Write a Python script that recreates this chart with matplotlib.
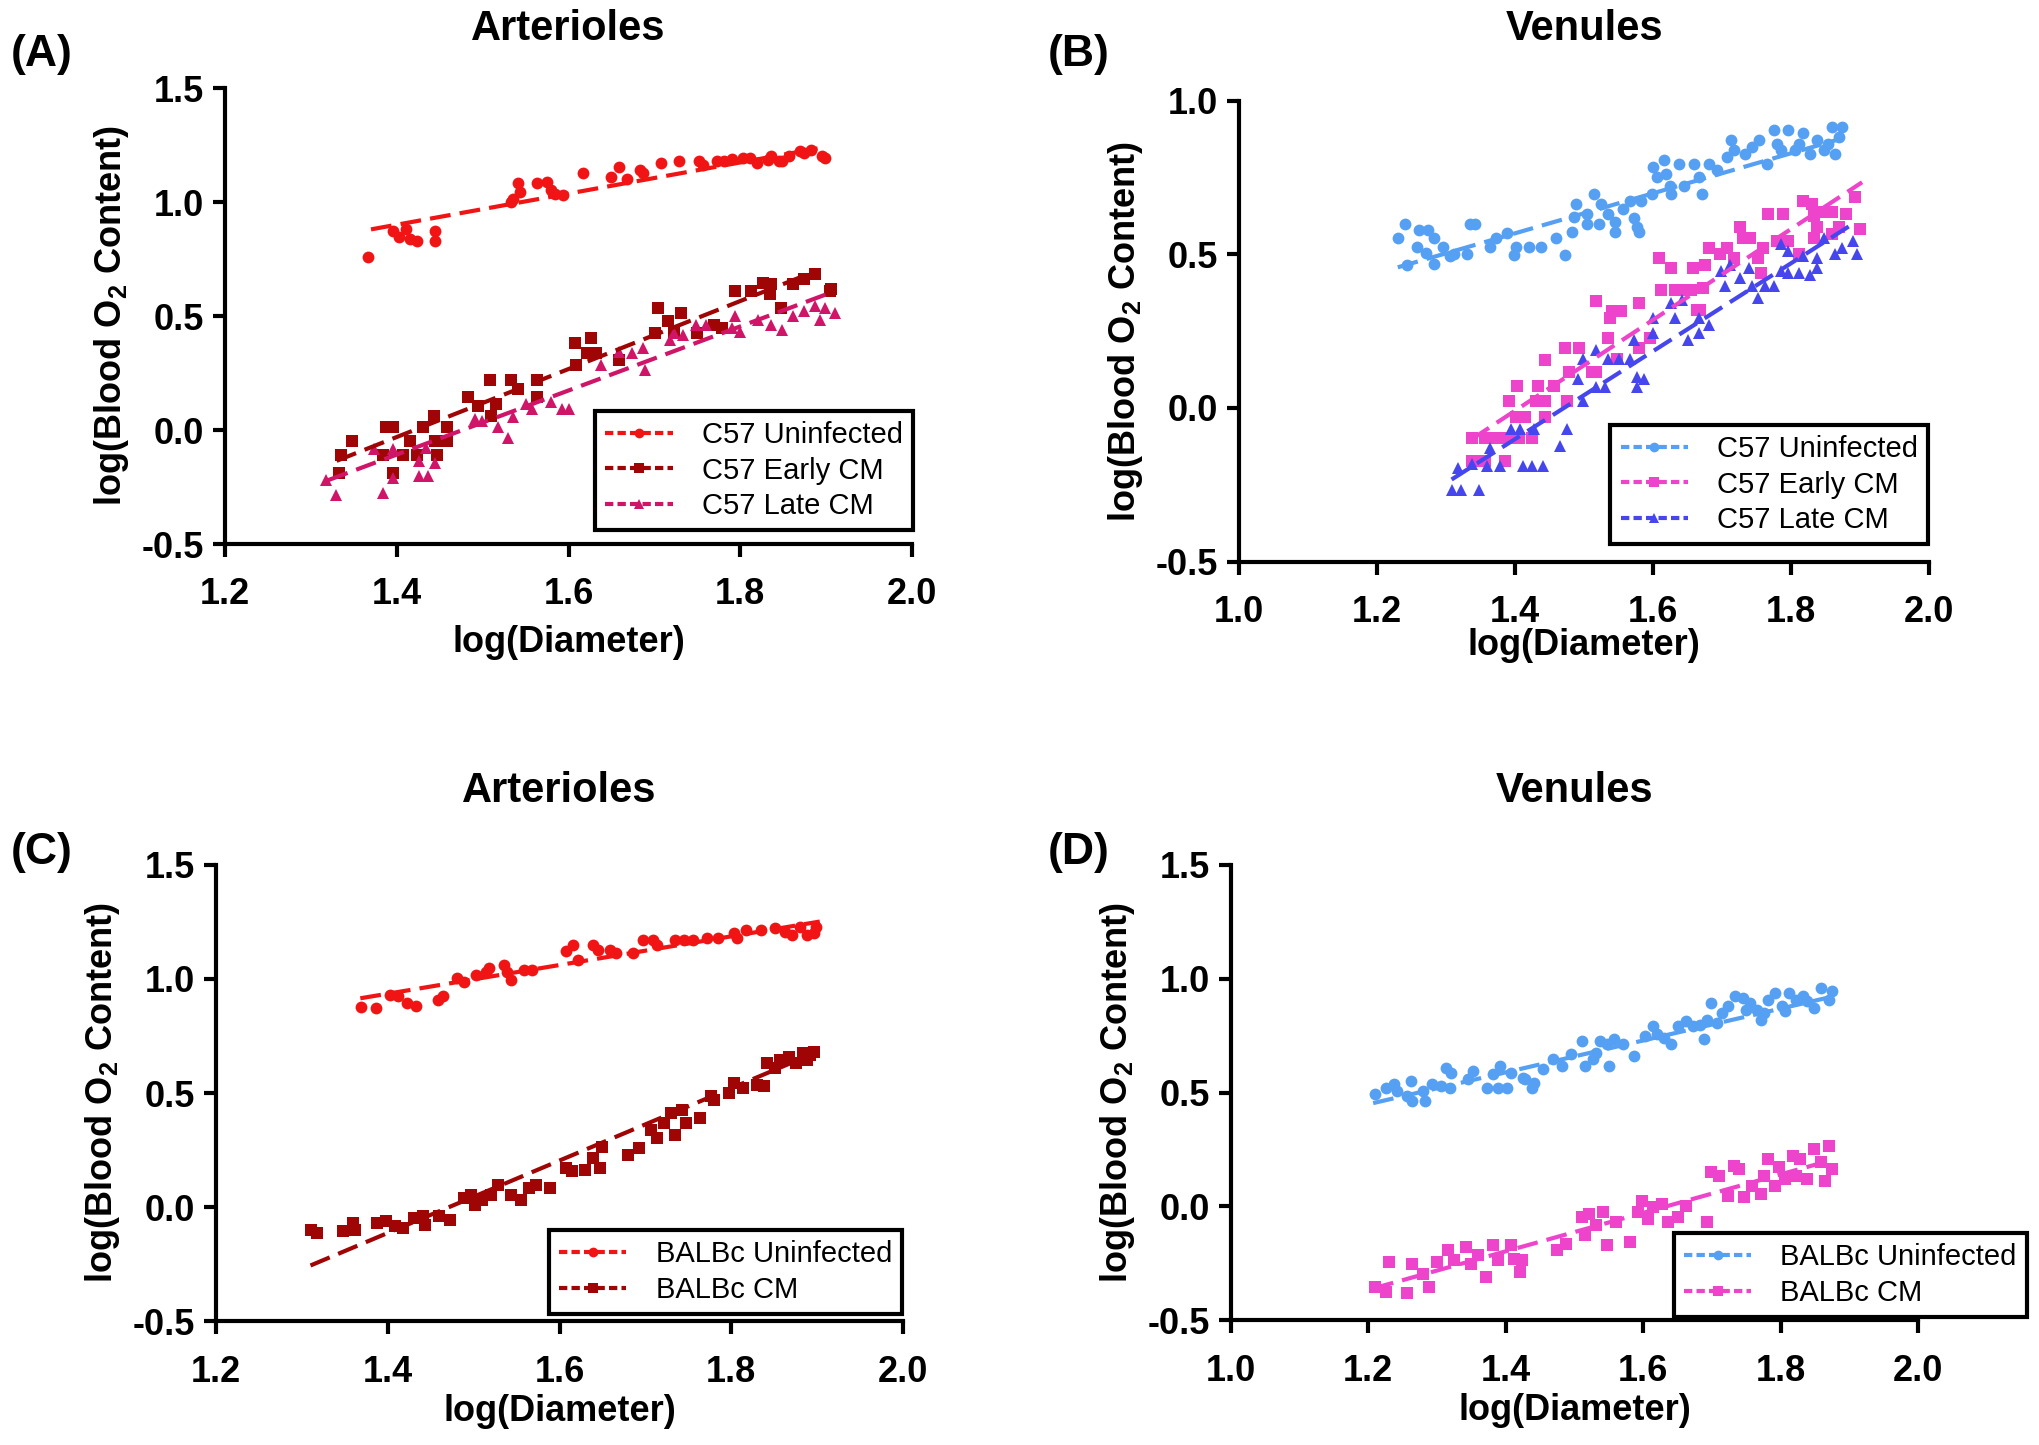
import matplotlib
matplotlib.use("Agg")
import matplotlib.pyplot as plt
from matplotlib.lines import Line2D

plt.rcParams["font.family"] = ["Liberation Sans", "DejaVu Sans"]
plt.rcParams["axes.unicode_minus"] = False
plt.rcParams["mathtext.fontset"] = "custom"
plt.rcParams["mathtext.rm"] = "Liberation Sans:bold"
plt.rcParams["mathtext.it"] = "Liberation Sans:bold"
plt.rcParams["mathtext.bf"] = "Liberation Sans:bold"

# ---------------- data ----------------
# (A) C57 arterioles
a_uninf_x = [1.367, 1.396, 1.403, 1.411, 1.415, 1.423, 1.445, 1.445, 1.541, 1.544, 1.535, 1.533, 1.563, 1.575, 1.579,
             1.584, 1.594, 1.617, 1.649, 1.659, 1.668, 1.683, 1.687, 1.708, 1.729, 1.752, 1.756, 1.773, 1.781, 1.790,
             1.803, 1.811, 1.819, 1.832, 1.836, 1.845, 1.849, 1.857, 1.870, 1.874, 1.882, 1.895, 1.899]
a_uninf_y = [0.760, 0.875, 0.848, 0.882, 0.838, 0.831, 0.875, 0.831, 1.082, 1.045, 1.015, 1.000, 1.082, 1.089, 1.052,
             1.037, 1.030, 1.129, 1.111, 1.152, 1.099, 1.141, 1.126, 1.170, 1.178, 1.178, 1.163, 1.178, 1.182, 1.188,
             1.192, 1.192, 1.170, 1.185, 1.200, 1.178, 1.182, 1.200, 1.222, 1.214, 1.229, 1.200, 1.192]
a_early_x = [1.333, 1.335, 1.348, 1.388, 1.396, 1.384, 1.396, 1.407, 1.415, 1.430, 1.443, 1.445, 1.447, 1.459, 1.459,
             1.424, 1.483, 1.495, 1.508, 1.510, 1.516, 1.533, 1.541, 1.563, 1.563, 1.607, 1.609, 1.626, 1.621, 1.632,
             1.659, 1.704, 1.701, 1.716, 1.731, 1.723, 1.750, 1.769, 1.779, 1.794, 1.813, 1.826, 1.834, 1.836, 1.847,
             1.861, 1.874, 1.887, 1.906, 1.904]
a_early_y = [-0.188, -0.111, -0.047, 0.012, 0.012, -0.111, -0.188, -0.111, -0.047, 0.012, 0.063, -0.047, -0.111, 0.012,
             -0.047, -0.111, 0.144, 0.107, 0.218, 0.063, 0.115, 0.218, 0.181, 0.218, 0.144, 0.380, 0.285, 0.403, 0.336,
             0.336, 0.307, 0.535, 0.425, 0.476, 0.513, 0.432, 0.425, 0.462, 0.447, 0.609, 0.609, 0.646, 0.595, 0.639,
             0.535, 0.639, 0.661, 0.683, 0.617, 0.609]
a_late_x = [1.329, 1.318, 1.384, 1.373, 1.396, 1.396, 1.426, 1.426, 1.436, 1.434, 1.445, 1.491, 1.499, 1.518, 1.529,
            1.535, 1.550, 1.558, 1.579, 1.592, 1.600, 1.638, 1.659, 1.674, 1.687, 1.689, 1.718, 1.723, 1.733, 1.748,
            1.760, 1.790, 1.800, 1.794, 1.821, 1.836, 1.849, 1.861, 1.874, 1.887, 1.893, 1.910, 1.899]
a_late_y = [-0.284, -0.217, -0.276, -0.085, -0.085, -0.210, -0.136, -0.202, -0.202, -0.077, -0.144, 0.048, 0.041, 0.012,
            -0.033, 0.056, 0.115, 0.093, 0.122, 0.093, 0.093, 0.285, 0.344, 0.336, 0.358, 0.262, 0.395, 0.425, 0.417,
            0.462, 0.462, 0.447, 0.432, 0.498, 0.484, 0.462, 0.440, 0.498, 0.521, 0.543, 0.484, 0.513, 0.535]

# (B) C57 venules
b_uninf_x = [1.230, 1.241, 1.243, 1.261, 1.258, 1.274, 1.271, 1.282, 1.282, 1.295, 1.305, 1.311, 1.331, 1.334, 1.342,
             1.363, 1.373, 1.389, 1.399, 1.402, 1.420, 1.438, 1.459, 1.472, 1.483, 1.485, 1.488, 1.504, 1.504, 1.514,
             1.522, 1.525, 1.535, 1.545, 1.545, 1.556, 1.566, 1.572, 1.577, 1.579, 1.582, 1.598, 1.600, 1.606, 1.616,
             1.619, 1.624, 1.626, 1.637, 1.645, 1.660, 1.666, 1.671, 1.681, 1.692, 1.707, 1.713, 1.718, 1.733, 1.744,
             1.754, 1.765, 1.775, 1.780, 1.796, 1.806, 1.817, 1.827, 1.838, 1.848, 1.859, 1.864, 1.869, 1.874, 1.853,
             1.812, 1.786]
b_uninf_y = [0.553, 0.599, 0.467, 0.579, 0.524, 0.579, 0.506, 0.469, 0.553, 0.524, 0.495, 0.500, 0.500, 0.599, 0.599,
             0.524, 0.555, 0.571, 0.498, 0.524, 0.524, 0.524, 0.555, 0.498, 0.574, 0.623, 0.664, 0.599, 0.631, 0.697,
             0.599, 0.664, 0.631, 0.604, 0.574, 0.648, 0.675, 0.620, 0.588, 0.574, 0.675, 0.697, 0.784, 0.752, 0.806,
             0.763, 0.724, 0.697, 0.795, 0.724, 0.795, 0.752, 0.697, 0.795, 0.774, 0.817, 0.872, 0.839, 0.828, 0.850,
             0.872, 0.795, 0.905, 0.861, 0.905, 0.839, 0.894, 0.828, 0.872, 0.839, 0.916, 0.828, 0.883, 0.916, 0.861,
             0.861, 0.839]
b_early_x = [1.337, 1.347, 1.357, 1.386, 1.337, 1.357, 1.373, 1.389, 1.405, 1.425, 1.402, 1.415, 1.444, 1.391, 1.431,
             1.444, 1.475, 1.403, 1.433, 1.457, 1.444, 1.478, 1.511, 1.517, 1.472, 1.493, 1.548, 1.535, 1.579, 1.595,
             1.517, 1.540, 1.553, 1.538, 1.579, 1.608, 1.611, 1.626, 1.632, 1.645, 1.655, 1.658, 1.676, 1.663, 1.668,
             1.673, 1.681, 1.697, 1.707, 1.718, 1.726, 1.731, 1.741, 1.752, 1.757, 1.767, 1.788, 1.780, 1.796, 1.812,
             1.817, 1.830, 1.833, 1.838, 1.848, 1.859, 1.869, 1.880, 1.893, 1.900, 1.759, 1.833, 1.859]
b_early_y = [-0.173, -0.173, -0.173, -0.173, -0.099, -0.099, -0.099, -0.099, -0.099, -0.099, -0.031, -0.031, -0.031,
             0.024, 0.024, 0.024, 0.024, 0.073, 0.073, 0.073, 0.155, 0.117, 0.117, 0.117, 0.194, 0.194, 0.161, 0.227,
             0.194, 0.227, 0.347, 0.316, 0.316, 0.292, 0.341, 0.489, 0.385, 0.456, 0.385, 0.385, 0.385, 0.456, 0.467,
             0.320, 0.320, 0.391, 0.522, 0.500, 0.522, 0.489, 0.588, 0.555, 0.555, 0.489, 0.440, 0.631, 0.631, 0.544,
             0.544, 0.500, 0.675, 0.664, 0.626, 0.588, 0.637, 0.637, 0.588, 0.631, 0.686, 0.582, 0.522, 0.555, 0.566]
b_late_x = [1.308, 1.321, 1.347, 1.318, 1.337, 1.360, 1.378, 1.412, 1.425, 1.441, 1.363, 1.394, 1.407, 1.428, 1.465,
            1.475, 1.498, 1.491, 1.517, 1.530, 1.577, 1.587, 1.577, 1.498, 1.517, 1.535, 1.551, 1.566, 1.572, 1.600,
            1.600, 1.626, 1.632, 1.642, 1.650, 1.666, 1.681, 1.666, 1.699, 1.705, 1.726, 1.744, 1.752, 1.762, 1.775,
            1.786, 1.796, 1.812, 1.786, 1.796, 1.817, 1.827, 1.838, 1.848, 1.864, 1.874, 1.890, 1.895, 1.838, 1.739,
            1.712]
b_late_y = [-0.266, -0.266, -0.266, -0.195, -0.184, -0.189, -0.189, -0.189, -0.189, -0.189, -0.129, -0.069, -0.069,
            -0.069, -0.123, -0.069, 0.024, 0.095, 0.068, 0.068, 0.068, 0.095, 0.101, 0.161, 0.188, 0.161, 0.161, 0.161,
            0.221, 0.243, 0.292, 0.341, 0.292, 0.352, 0.221, 0.243, 0.270, 0.292, 0.445, 0.396, 0.423, 0.396, 0.358,
            0.396, 0.396, 0.445, 0.440, 0.440, 0.533, 0.511, 0.495, 0.434, 0.456, 0.555, 0.500, 0.522, 0.544, 0.500,
            0.489, 0.456, 0.467]

# (C) BALBc arterioles
c_uninf_x = [1.369, 1.386, 1.402, 1.412, 1.422, 1.433, 1.458, 1.464, 1.481, 1.489, 1.503, 1.514, 1.518, 1.535, 1.539,
             1.543, 1.558, 1.568, 1.607, 1.616, 1.622, 1.639, 1.645, 1.659, 1.666, 1.686, 1.697, 1.709, 1.713, 1.734,
             1.745, 1.755, 1.772, 1.784, 1.803, 1.807, 1.817, 1.834, 1.851, 1.863, 1.871, 1.880, 1.888, 1.896, 1.898]
c_uninf_y = [0.879, 0.872, 0.930, 0.926, 0.894, 0.882, 0.908, 0.923, 1.003, 0.988, 1.018, 1.032, 1.047, 1.061, 1.032,
             0.996, 1.039, 1.039, 1.120, 1.149, 1.083, 1.149, 1.127, 1.127, 1.112, 1.112, 1.171, 1.171, 1.149, 1.171,
             1.171, 1.171, 1.178, 1.178, 1.200, 1.178, 1.215, 1.215, 1.222, 1.207, 1.193, 1.229, 1.193, 1.200, 1.229]
c_cm_x = [1.310, 1.317, 1.348, 1.360, 1.362, 1.387, 1.398, 1.408, 1.418, 1.431, 1.441, 1.443, 1.460, 1.472, 1.489,
          1.497, 1.501, 1.510, 1.520, 1.528, 1.543, 1.555, 1.564, 1.572, 1.589, 1.607, 1.614, 1.630, 1.639, 1.647,
          1.649, 1.680, 1.693, 1.707, 1.713, 1.722, 1.730, 1.734, 1.743, 1.747, 1.763, 1.776, 1.780, 1.797, 1.803,
          1.813, 1.830, 1.838, 1.842, 1.851, 1.857, 1.867, 1.875, 1.884, 1.892, 1.896, 1.888]
c_cm_y = [-0.098, -0.113, -0.106, -0.069, -0.098, -0.069, -0.062, -0.084, -0.091, -0.048, -0.040, -0.077, -0.040,
          -0.055, 0.040, 0.055, 0.011, 0.033, 0.055, 0.098, 0.055, 0.033, 0.084, 0.098, 0.084, 0.171, 0.157, 0.164,
          0.215, 0.171, 0.266, 0.230, 0.259, 0.339, 0.303, 0.368, 0.412, 0.317, 0.427, 0.368, 0.390, 0.485, 0.470,
          0.500, 0.543, 0.522, 0.536, 0.529, 0.631, 0.609, 0.645, 0.660, 0.631, 0.675, 0.667, 0.682, 0.645]

# (D) BALBc venules
d_uninf_x = [1.210, 1.225, 1.238, 1.241, 1.256, 1.262, 1.264, 1.282, 1.280, 1.293, 1.306, 1.313, 1.321, 1.319, 1.345,
             1.352, 1.373, 1.389, 1.402, 1.381, 1.391, 1.407, 1.425, 1.428, 1.438, 1.441, 1.454, 1.469, 1.482, 1.495,
             1.511, 1.516, 1.527, 1.537, 1.547, 1.550, 1.558, 1.571, 1.586, 1.602, 1.615, 1.630, 1.641, 1.651, 1.662,
             1.672, 1.688, 1.693, 1.698, 1.714, 1.724, 1.734, 1.745, 1.755, 1.771, 1.766, 1.781, 1.792, 1.802, 1.812,
             1.823, 1.833, 1.849, 1.859, 1.870, 1.875, 1.838, 1.807, 1.776, 1.750, 1.708, 1.682, 1.620, 1.532]
d_uninf_y = [0.493, 0.522, 0.537, 0.508, 0.486, 0.551, 0.464, 0.464, 0.508, 0.537, 0.530, 0.610, 0.588, 0.522, 0.559,
             0.595, 0.522, 0.522, 0.522, 0.581, 0.617, 0.588, 0.566, 0.559, 0.522, 0.544, 0.602, 0.646, 0.617, 0.668,
             0.726, 0.617, 0.646, 0.726, 0.712, 0.617, 0.734, 0.712, 0.661, 0.748, 0.792, 0.741, 0.712, 0.792, 0.814,
             0.792, 0.734, 0.821, 0.894, 0.850, 0.880, 0.923, 0.916, 0.894, 0.821, 0.865, 0.909, 0.938, 0.880, 0.938,
             0.909, 0.923, 0.872, 0.960, 0.909, 0.945, 0.902, 0.858, 0.850, 0.865, 0.807, 0.799, 0.756, 0.675]
d_cm_x = [1.210, 1.225, 1.230, 1.256, 1.264, 1.280, 1.288, 1.300, 1.316, 1.324, 1.342, 1.350, 1.360, 1.371, 1.381,
          1.389, 1.407, 1.412, 1.420, 1.423, 1.475, 1.488, 1.511, 1.516, 1.521, 1.532, 1.542, 1.547, 1.560, 1.581,
          1.592, 1.599, 1.607, 1.615, 1.628, 1.636, 1.651, 1.662, 1.693, 1.698, 1.711, 1.724, 1.732, 1.740, 1.747,
          1.758, 1.771, 1.776, 1.781, 1.797, 1.807, 1.818, 1.828, 1.838, 1.849, 1.859, 1.870, 1.875, 1.864, 1.823,
          1.792]
d_cm_y = [-0.353, -0.375, -0.244, -0.382, -0.251, -0.295, -0.353, -0.244, -0.193, -0.236, -0.178, -0.251, -0.215,
          -0.309, -0.171, -0.236, -0.171, -0.229, -0.288, -0.236, -0.193, -0.163, -0.047, -0.127, -0.032, -0.083,
          -0.025, -0.171, -0.069, -0.156, -0.025, 0.026, -0.054, -0.003, 0.012, -0.069, -0.047, 0.004, -0.069, 0.150,
          0.136, 0.048, 0.179, 0.165, 0.041, 0.092, 0.055, 0.136, 0.209, 0.172, 0.121, 0.223, 0.209, 0.121, 0.252,
          0.194, 0.267, 0.165, 0.114, 0.136, 0.092]

# linear-fit end points (x range, y at both ends) as drawn in the figure
a_fit_uninf = ([1.37, 1.89], [0.88, 1.235])
a_fit_early = ([1.33, 1.89], [-0.135, 0.70])
a_fit_late = ([1.32, 1.90], [-0.22, 0.595])
b_fit_uninf = ([1.23, 1.87], [0.458, 0.875])
b_fit_early = ([1.337, 1.903], [-0.102, 0.735])
b_fit_late = ([1.308, 1.89], [-0.233, 0.60])
c_fit_uninf = ([1.368, 1.903], [0.915, 1.251])
c_fit_cm = ([1.31, 1.90], [-0.255, 0.68])
d_fit_uninf = ([1.207, 1.88], [0.454, 0.925])
d_fit_cm = ([1.207, 1.87], [-0.36, 0.20])

RED = "#F01414"
DARKRED = "#A00505"
CRIMSON = "#D01468"
LIGHTBLUE = "#55A0F2"
MAGENTA = "#EE44CC"
VIOLET = "#4646EE"

MARKER_SIZE = {"o": 8.5, "s": 8.5, "^": 8}
FIT_LW = 3.0
FIT_DASH = (5.0, 2.2)


def draw_series(ax, xs, ys, fit, color, marker, label):
    ax.plot(xs, ys, ls="none", marker=marker, ms=MARKER_SIZE[marker], color=color,
            mec=color, mew=0, zorder=3, clip_on=False)
    ax.plot(fit[0], fit[1], color=color, lw=FIT_LW, dashes=FIT_DASH, zorder=4)
    return Line2D([], [], color=color, lw=FIT_LW, dashes=(2.0, 1.0), marker=marker,
                  ms=MARKER_SIZE[marker] - 1.5, mew=0, label=label)


def style_axes(ax, xlim, ylim, xticks, yticks, xpad):
    ax.set_xlim(*xlim)
    ax.set_ylim(*ylim)
    ax.set_xticks(xticks)
    ax.set_yticks(yticks)
    ax.set_xticklabels([f"{t:.1f}" for t in xticks])
    ax.set_yticklabels([f"{t:.1f}" for t in yticks])
    for side in ("top", "right"):
        ax.spines[side].set_visible(False)
    for side in ("left", "bottom"):
        ax.spines[side].set_linewidth(3.0)
        ax.spines[side].set_color("black")
    ax.tick_params(axis="both", direction="out", length=9, width=3.0, labelsize=26)
    ax.tick_params(axis="x", pad=15)
    ax.tick_params(axis="y", pad=6)
    for lab in ax.get_xticklabels() + ax.get_yticklabels():
        lab.set_fontweight("bold")
    ax.set_xlabel("log(Diameter)", fontsize=26, fontweight="bold", labelpad=xpad)
    ax.set_ylabel(r"log(Blood O$_2$ Content)", fontsize=26, fontweight="bold", labelpad=8)


def add_legend(fig, ax, handles, anchor):
    leg = ax.legend(handles=handles, loc="lower right", bbox_to_anchor=anchor,
                    bbox_transform=fig.transFigure, borderaxespad=0, fontsize=21,
                    frameon=True, fancybox=False, framealpha=1, edgecolor="black",
                    handlelength=2.3, handletextpad=1.0, labelspacing=0.25,
                    borderpad=0.35)
    leg.get_frame().set_linewidth(3.0)
    return leg


fig = plt.figure(figsize=(20.4, 14.45), dpi=100)

axA = fig.add_axes([0.1103, 0.6235, 0.3368, 0.3156])
axB = fig.add_axes([0.6074, 0.6114, 0.3382, 0.3188])
axC = fig.add_axes([0.1059, 0.0855, 0.3368, 0.3161])
axD = fig.add_axes([0.6034, 0.0863, 0.3368, 0.3151])

# (A)
hA = [draw_series(axA, a_uninf_x, a_uninf_y, a_fit_uninf, RED, "o", "C57 Uninfected"),
      draw_series(axA, a_early_x, a_early_y, a_fit_early, DARKRED, "s", "C57 Early CM"),
      draw_series(axA, a_late_x, a_late_y, a_fit_late, CRIMSON, "^", "C57 Late CM")]
style_axes(axA, (1.2, 2.0), (-0.5, 1.5), [1.2, 1.4, 1.6, 1.8, 2.0], [-0.5, 0.0, 0.5, 1.0, 1.5], 9)
add_legend(fig, axA, hA, (0.4475, 0.6332))

# (B)
hB = [draw_series(axB, b_uninf_x, b_uninf_y, b_fit_uninf, LIGHTBLUE, "o", "C57 Uninfected"),
      draw_series(axB, b_early_x, b_early_y, b_fit_early, MAGENTA, "s", "C57 Early CM"),
      draw_series(axB, b_late_x, b_late_y, b_fit_late, VIOLET, "^", "C57 Late CM")]
style_axes(axB, (1.0, 2.0), (-0.5, 1.0), [1.0, 1.2, 1.4, 1.6, 1.8, 2.0], [-0.5, 0.0, 0.5, 1.0], -1)
add_legend(fig, axB, hB, (0.9451, 0.6235))

# (C)
hC = [draw_series(axC, c_uninf_x, c_uninf_y, c_fit_uninf, RED, "o", "BALBc Uninfected"),
      draw_series(axC, c_cm_x, c_cm_y, c_fit_cm, DARKRED, "s", "BALBc CM")]
style_axes(axC, (1.2, 2.0), (-0.5, 1.5), [1.2, 1.4, 1.6, 1.8, 2.0], [-0.5, 0.0, 0.5, 1.0, 1.5], 3)
add_legend(fig, axC, hC, (0.4422, 0.0907))

# (D)
hD = [draw_series(axD, d_uninf_x, d_uninf_y, d_fit_uninf, LIGHTBLUE, "o", "BALBc Uninfected"),
      draw_series(axD, d_cm_x, d_cm_y, d_fit_cm, MAGENTA, "s", "BALBc CM")]
style_axes(axD, (1.0, 2.0), (-0.5, 1.5), [1.0, 1.2, 1.4, 1.6, 1.8, 2.0], [-0.5, 0.0, 0.5, 1.0, 1.5], 3)
add_legend(fig, axD, hD, (0.9936, 0.0886))

# titles and panel letters
for ax, title, ty in [(axA, "Arterioles", 1.129), (axB, "Venules", 1.156),
                      (axC, "Arterioles", 1.162), (axD, "Venules", 1.162)]:
    ax.text(0.5, ty, title, transform=ax.transAxes, ha="center", va="center",
            fontsize=30, fontweight="bold")

for letter, x, y in [("(A)", 0.0206, 0.962), ("(B)", 0.529, 0.962),
                     ("(C)", 0.0206, 0.410), ("(D)", 0.529, 0.410)]:
    fig.text(x, y, letter, ha="center", va="center", fontsize=32, fontweight="bold")

fig.savefig("out.png", dpi=100)
